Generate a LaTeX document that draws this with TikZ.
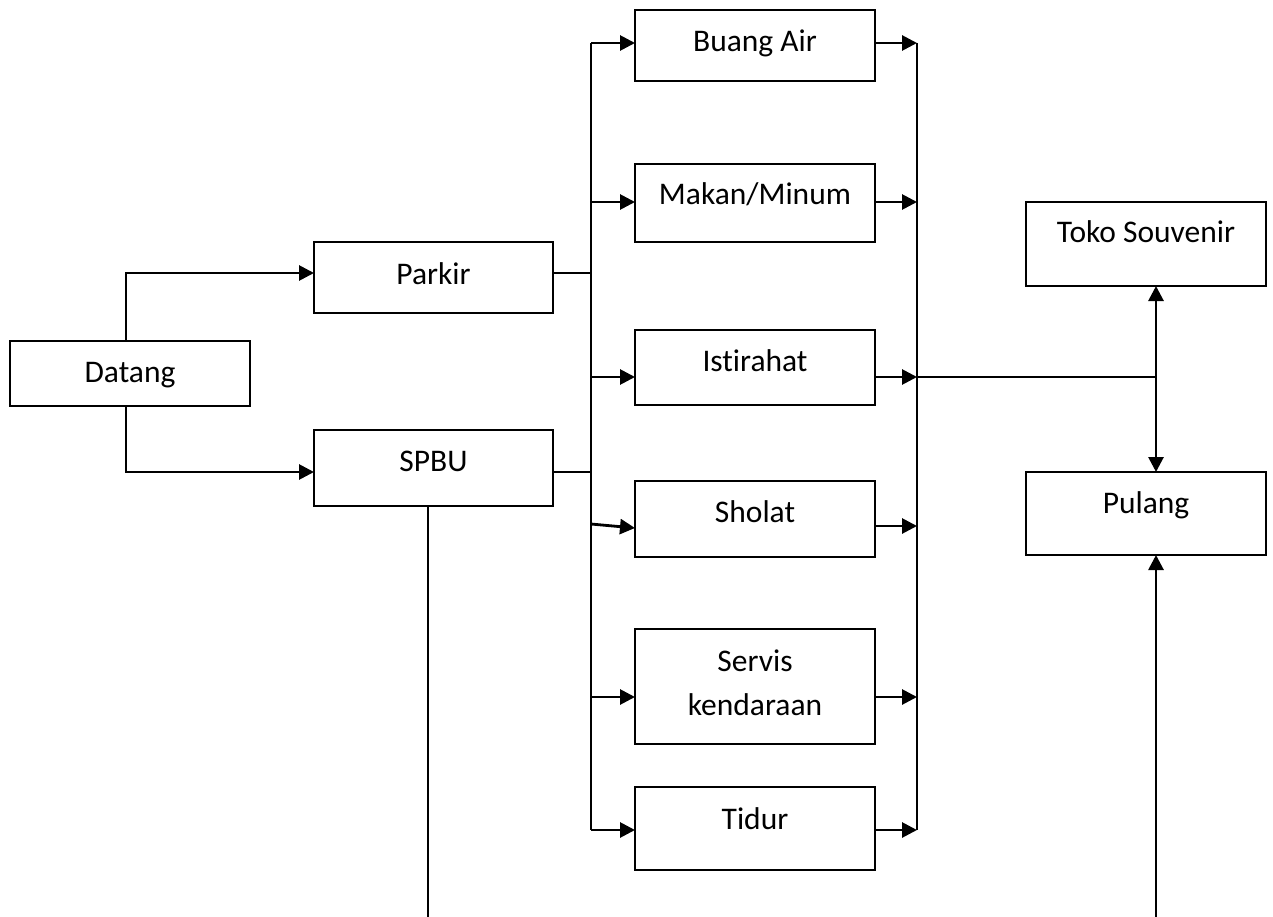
\documentclass[tikz,border=0pt]{standalone}
\usepackage{fontspec}
\setmainfont[Ligatures={NoCommon}]{Carlito}
\usetikzlibrary{arrows.meta,calc}
\begin{document}
\begin{tikzpicture}[x=1pt,y=-1pt,
 box/.style={draw=black,line width=2pt,rectangle,inner sep=0pt,outer sep=0pt},
 lbl/.style={anchor=base,font=\fontsize{31.5}{44}\selectfont,inner sep=0pt},
 conn/.style={line width=2.8pt,draw=black},
 thinline/.style={line width=1.4pt,draw=black},
 arr/.style={conn,-{Triangle[length=15pt,width=15pt]}},
 darr/.style={conn,{Triangle[length=15pt,width=15pt]}-{Triangle[length=15pt,width=15pt]}},
]
\useasboundingbox (0,0) rectangle (1273,917);
\fill[white] (0,0) rectangle (1273,917);

% boxes
\node[box,minimum width=240pt,minimum height=65pt] (datang) at (130,373.5) {};
\node[box,minimum width=239pt,minimum height=71pt] (parkir) at (433.5,277.5) {};
\node[box,minimum width=239pt,minimum height=76pt] (spbu) at (433.5,468) {};
\node[box,minimum width=240pt,minimum height=71pt] (buang) at (755,45.5) {};
\node[box,minimum width=240pt,minimum height=78pt] (makan) at (755,203) {};
\node[box,minimum width=240pt,minimum height=75pt] (istirahat) at (755,367.5) {};
\node[box,minimum width=240pt,minimum height=76pt] (sholat) at (755,519) {};
\node[box,minimum width=240pt,minimum height=115pt] (servis) at (755,686.5) {};
\node[box,minimum width=240pt,minimum height=83pt] (tidur) at (755,828.5) {};
\node[box,minimum width=240pt,minimum height=84pt] (toko) at (1146,244) {};
\node[box,minimum width=240pt,minimum height=83pt] (pulang) at (1146,513.5) {};

% labels
\node[lbl] (tdatang) at (130,382) {Datang};
\node[lbl] (tparkir) at (433.5,284) {Parkir};
\node[lbl] (tspbu) at (433.5,471) {SPBU};
\node[lbl] (tbuang) at (755,52) {Buang Air};
\node[lbl] (tmakan) at (755,205) {Makan/Minum};
\node[lbl] (tistirahat) at (755,371) {Istirahat};
\node[lbl] (tsholat) at (755,522) {Sholat};
\node[lbl] (tservis) at (755,671) {Servis};
\node[lbl] (tkendaraan) at (755,715) {kendaraan};
\node[lbl] (ttidur) at (755,829) {Tidur};
\node[lbl] (ttoko) at (1146,243) {Toko Souvenir};
\node[lbl] (tpulang) at (1146,513) {Pulang};

% coordinates
\coordinate (dx) at (126,0);
\coordinate (LT) at (591,43);
\coordinate (LB) at (591,830);
\coordinate (RT) at (917,43);
\coordinate (RB) at (917,830);
\coordinate (J) at (1156,377);
\coordinate (PB) at (1156,917);
\coordinate (SB) at (428,917);

% Datang to Parkir / SPBU
\draw[arr] (datang.north -| dx) |- ($(parkir.west)+(0,-4.5)$);
\draw[arr] (datang.south -| dx) |- ($(spbu.west)+(0,4)$);

% Parkir / SPBU to left bus
\draw[thinline] ($(parkir.east)+(0,-4.5)$) -- (LT |- {$(parkir.east)+(0,-4.5)$});
\draw[thinline] ($(spbu.east)+(0,4)$) -- (LT |- {$(spbu.east)+(0,4)$});

% buses
\draw[conn] (LT) -- (LB);
\draw[conn] (RT) -- (RB);

% left bus to activity boxes
\draw[arr] (LT) -- (buang.west |- LT);
\draw[arr] (LT |- {0,202}) -- (makan.west |- {0,202});
\draw[arr] (LT |- J) -- (istirahat.west |- J);
\draw[arr] (LT |- {0,524}) -- (sholat.west |- {0,528});
\draw[arr] (LT |- {0,697}) -- (servis.west |- {0,697});
\draw[arr] (LB) -- (tidur.west |- LB);

% activity boxes to right bus
\draw[arr] (buang.east |- RT) -- (RT);
\draw[arr] (makan.east |- {0,202}) -- (RT |- {0,202});
\draw[arr] (istirahat.east |- J) -- (RT |- J);
\draw[arr] (sholat.east |- {0,526}) -- (RT |- {0,526});
\draw[arr] (servis.east |- {0,697}) -- (RT |- {0,697});
\draw[arr] (tidur.east |- RB) -- (RB);

% right side
\draw[thinline] (RT |- J) -- (J);
\draw[darr] (toko.south -| J) -- (pulang.north -| J);
\draw[arr] (PB) -- (pulang.south -| PB);

% SPBU down
\draw[conn] (spbu.south -| SB) -- (SB);
\end{tikzpicture}
\end{document}
